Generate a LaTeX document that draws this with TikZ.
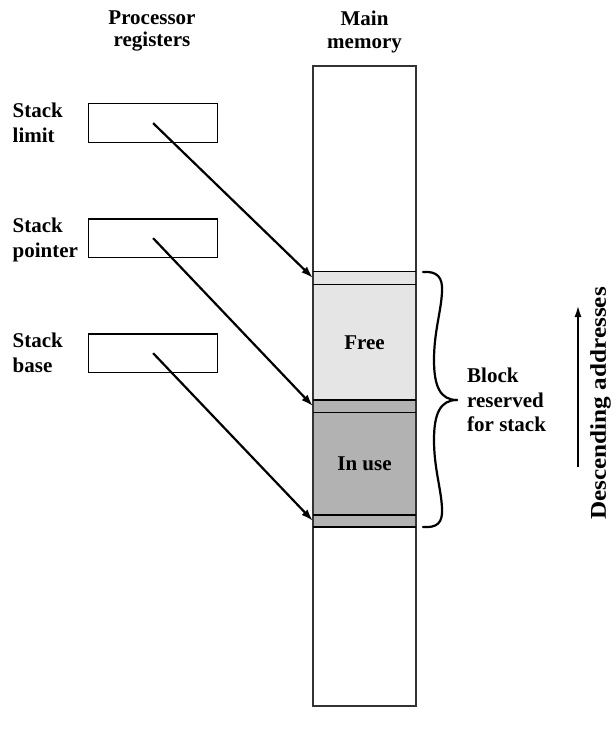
\documentclass[tikz,border=0pt]{standalone}
\usepackage{fontspec}
\usepackage{graphicx}
\setmainfont{Liberation Serif}
\usetikzlibrary{arrows.meta}
\begin{document}
\begin{tikzpicture}[x=1pt,y=-1pt,
  lbl/.style={font=\bfseries\fontsize{21}{24.5}\selectfont, align=left, inner sep=0pt, anchor=north west},
  hdr/.style={font=\bfseries\fontsize{21}{22.5}\selectfont, align=center, inner sep=0pt},
  reg/.style={draw, line width=1.2pt, minimum width=129pt, minimum height=38.5pt, inner sep=0pt, anchor=north west},
  cell/.style={minimum width=103pt, inner sep=0pt, outer sep=0pt, anchor=north west, font=\bfseries\fontsize{21}{24}\selectfont},
  ptr/.style={line width=2.2pt, -{Latex[length=12pt,width=8pt]}},
  sep/.style={line width=1.5pt},
  brace/.style={line width=2.2pt, line cap=round}]

\useasboundingbox (0,0) rectangle (615,735);

% headers
\node[hdr] (hproc) at (152,31) {Processor\\registers};
\node[hdr] (hmem) at (364.5,32) {Main\\memory};

% registers
\node[reg] (r1) at (88,103.3) {};
\node[reg] (r2) at (88,218.3) {};
\node[reg] (r3) at (88,333.3) {};
\node[lbl] (l1) at (12.5,103) {Stack\\limit};
\node[lbl] (l2) at (12.5,218) {Stack\\pointer};
\node[lbl] (l3) at (12.5,333) {Stack\\base};

% memory cells
\node[cell, minimum height=13pt, fill=black!10] (lim) at (313,271.5) {};
\node[cell, minimum height=115.5pt, fill=black!10] (free) at (313,284.5) {Free};
\node[cell, minimum height=12.5pt, fill=black!30] (sp) at (313,400) {};
\node[cell, minimum height=102.5pt, fill=black!30] (used) at (313,412.5) {In use};
\node[cell, minimum height=12pt, fill=black!30] (sb) at (313,515) {};
\node[cell, draw=black!80, line width=1.2pt, minimum height=640pt] (mem) at (313,66) {};

\draw[sep] (lim.north west) -- (lim.north east);
\draw[sep] (free.north west) -- (free.north east);
\draw[sep] (sp.north west) -- (sp.north east);
\draw[sep] (used.north west) -- (used.north east);
\draw[sep] (sb.north west) -- (sb.north east);
\draw[sep] (sb.south west) -- (sb.south east);

% pointers
\draw[ptr] (r1.center) -- (lim.west);
\draw[ptr] (r2.center) -- (sp.west);
\draw[ptr] (r3.center) -- (sb.west);

% brace
\draw[brace] (423,272) .. controls (437,271) and (443,277) .. (442,292)
  .. controls (441,312) and (434,332) .. (434,360)
  .. controls (434,386) and (440,400) .. (457,400);
\draw[brace] (457,400) .. controls (440,400) and (434,414) .. (434,440)
  .. controls (434,468) and (441,488) .. (442,508)
  .. controls (443,523) and (437,528) .. (423,527);
\node[lbl] (blk) at (467,368) {Block\\reserved\\for stack};

% descending addresses
\coordinate (aB) at (578,467);
\coordinate (aT) at (578,305);
\draw[line width=2.2pt, -{Latex[length=12pt,width=7pt]}] (aB) -- (aT);
\node[font=\bfseries\fontsize{22.5}{26}\selectfont, rotate=90, inner sep=0pt] (desc) at (600.5,403.5) {\scalebox{1.12}[1]{Descending addresses}};
\end{tikzpicture}
\end{document}
